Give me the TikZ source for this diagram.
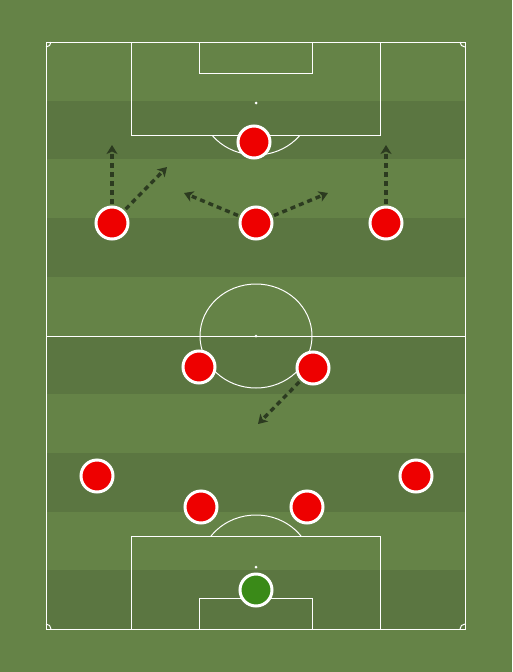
\documentclass[tikz,border=0pt]{standalone}
\usepackage{tikz}
\usetikzlibrary{arrows.meta,shadows}
\definecolor{grass}{HTML}{658347}
\definecolor{stripe}{HTML}{5B7641}
\definecolor{shirt}{HTML}{EE0000}
\definecolor{keeper}{HTML}{3A8A18}
\definecolor{run}{HTML}{2C3B20}

\begin{document}
\begin{tikzpicture}[x=1pt,y=-1pt]
\tikzstyle{player}=[draw=white,line width=3pt,shape=circle,minimum size=32pt,inner sep=0pt,fill=shirt,
  drop shadow={shadow xshift=0pt,shadow yshift=-1.5pt,opacity=0.25}];
\tikzstyle{line}=[draw=white,line width=1pt];
\tikzstyle{runarrow}=[draw=run,line width=3.4pt,dash pattern=on 5pt off 4pt,shorten <=2pt,
  -{Stealth[length=9pt,width=11pt,inset=2.5pt,sep=0pt]}];
% background and stripes
\fill[grass] (0,0) rectangle (512,672);
\useasboundingbox (0,0) rectangle (512,672);
\foreach \i in {1,3,5,7,9}
  \fill[stripe] (46,{42+58.7*\i}) rectangle (465,{42+58.7*(\i+1)});
% pitch
\draw[line] (46,42) rectangle (465,629);
\draw[line] (46,336) -- (465,336);
\draw[line] (256,336) ellipse (56 and 52);
\fill[white] (256,336) circle (1.5);
% top box
\draw[line] (131,42) rectangle (380,135);
\draw[line] (199,42) rectangle (312,73);
\fill[white] (256,103) circle (1.5);
\begin{scope}
\clip (131,135) rectangle (380,200);
\draw[line] (256,103) ellipse (56 and 52);
\end{scope}
% bottom box
\draw[line] (131,536) rectangle (380,629);
\draw[line] (199,598) rectangle (312,629);
\fill[white] (256,567) circle (1.5);
\begin{scope}
\clip (131,480) rectangle (380,536);
\draw[line] (256,567) ellipse (56 and 52);
\end{scope}
% corners
\draw[line] (51,42) arc (0:90:5);
\draw[line] (460,42) arc (180:90:5);
\draw[line] (46,624) arc (270:360:5);
\draw[line] (465,624) arc (270:180:5);
% players
\node[player,fill=keeper] (gk) at (256,590) {};
\node[player] (lcb) at (201,507) {};
\node[player] (rcb) at (307,507) {};
\node[player] (lb) at (97,476) {};
\node[player] (rb) at (416,476) {};
\node[player] (lcm) at (199,367) {};
\node[player] (rcm) at (313,368) {};
\node[player] (lw) at (112,223) {};
\node[player] (am) at (256,223) {};
\node[player] (rw) at (386,223) {};
\node[player] (st) at (254,142) {};
% runs
\coordinate (lwup) at (112,145);
\coordinate (lwin) at (167,167);
\coordinate (amleft) at (184,193);
\coordinate (amright) at (328,193);
\coordinate (rwup) at (386,145);
\coordinate (rcmdown) at (258,424);
\draw[runarrow] (lw) -- (lwup);
\draw[runarrow] (lw) -- (lwin);
\draw[runarrow] (am) -- (amleft);
\draw[runarrow] (am) -- (amright);
\draw[runarrow] (rw) -- (rwup);
\draw[runarrow] (rcm) -- (rcmdown);
\end{tikzpicture}
\end{document}
